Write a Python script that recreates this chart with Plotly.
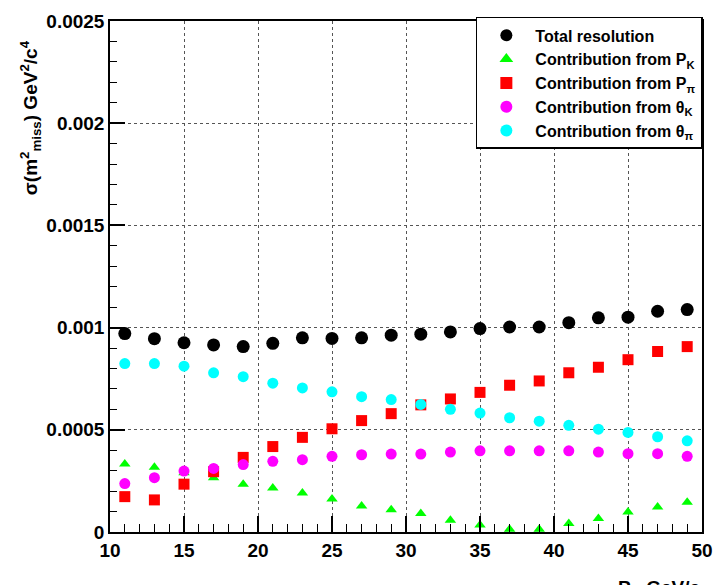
import plotly.graph_objects as go

p_values = [11, 13, 15, 17, 19, 21, 23, 25, 27, 29, 31, 33, 35, 37, 39, 41, 43, 45, 47, 49]

total_res = [0.000971, 0.000946, 0.000926, 0.000915, 0.000907, 0.000923, 0.000950, 0.000947, 0.000950, 0.000963,
             0.000968, 0.000979, 0.000995, 0.001003, 0.001003, 0.001024, 0.001048, 0.001051, 0.001080, 0.001088]
contrib_pk = [0.000333, 0.000317, 0.000290, 0.000266, 0.000234, 0.000215, 0.000191, 0.000162, 0.000127, 0.000109,
              0.000090, 0.000058, 0.000034, 0.000013, 0.000013, 0.000042, 0.000066, 0.000098, 0.000122, 0.000146]
contrib_ppi = [0.000173, 0.000157, 0.000234, 0.000295, 0.000365, 0.000418, 0.000463, 0.000505, 0.000545, 0.000579,
               0.000622, 0.000651, 0.000683, 0.000718, 0.000739, 0.000779, 0.000806, 0.000843, 0.000883, 0.000907]
contrib_thk = [0.000237, 0.000266, 0.000298, 0.000311, 0.000330, 0.000346, 0.000354, 0.000370, 0.000378, 0.000381,
               0.000381, 0.000391, 0.000397, 0.000397, 0.000397, 0.000397, 0.000391, 0.000383, 0.000383, 0.000370]
contrib_thpi = [0.000824, 0.000824, 0.000811, 0.000779, 0.000760, 0.000728, 0.000705, 0.000686, 0.000662, 0.000648,
                0.000624, 0.000600, 0.000582, 0.000559, 0.000542, 0.000522, 0.000503, 0.000487, 0.000466, 0.000446]

names = ["Total resolution", "Contribution from P<sub>K</sub>", "Contribution from P<sub>π</sub>",
         "Contribution from θ<sub>K</sub>", "Contribution from θ<sub>π</sub>"]

FONT = "Liberation Sans, Arial, sans-serif"

fig = go.Figure()
fig.add_trace(go.Scatter(x=p_values, y=total_res, mode="markers", name=names[0],
                         marker=dict(symbol="circle", size=13, color="black")))
fig.add_trace(go.Scatter(x=p_values, y=contrib_pk, mode="markers", name=names[1],
                         marker=dict(symbol="triangle-up", size=10, color="#00ff00")))
fig.add_trace(go.Scatter(x=p_values, y=contrib_ppi, mode="markers", name=names[2],
                         marker=dict(symbol="square", size=11, color="#ff0000")))
fig.add_trace(go.Scatter(x=p_values, y=contrib_thk, mode="markers", name=names[3],
                         marker=dict(symbol="circle", size=11, color="#ff00ff")))
fig.add_trace(go.Scatter(x=p_values, y=contrib_thpi, mode="markers", name=names[4],
                         marker=dict(symbol="circle", size=11, color="#00ffff")))

axis_common = dict(
    showline=True, linecolor="black", linewidth=1.5, mirror=True,
    ticks="inside", tickcolor="black", tickwidth=1.5,
    showgrid=True, gridcolor="#555555", griddash="dot", gridwidth=1,
    zeroline=False,
    tickfont=dict(family=FONT, size=19, color="black", weight="bold"),
)

fig.update_xaxes(range=[10, 50], dtick=5, tick0=10, ticklen=16,
                 minor=dict(dtick=1, ticks="inside", ticklen=8, tickcolor="black", tickwidth=1.2, showgrid=False),
                 **axis_common)
fig.update_yaxes(range=[0, 0.0025], dtick=0.0005, tick0=0, ticklen=15, tickformat="~g",
                 minor=dict(dtick=0.0001, ticks="inside", ticklen=7, tickcolor="black", tickwidth=1.2, showgrid=False),
                 **axis_common)

fig.update_layout(
    width=724, height=585,
    margin=dict(l=110, r=11, t=14, b=53),
    plot_bgcolor="white", paper_bgcolor="white",
    showlegend=True,
    legend=dict(x=0.618, y=1.008, xanchor="left", yanchor="top",
                bgcolor="white", bordercolor="black", borderwidth=1.5,
                font=dict(family=FONT, size=16, color="black", weight="bold"),
                tracegroupgap=0, itemsizing="constant", itemwidth=48),
    annotations=[
        dict(text="σ(m<sup>2</sup><sub>miss</sub>) GeV<sup>2</sup>/c<sup>4</sup>", textangle=-90,
             xref="paper", yref="paper", x=-0.135, y=0.81, xanchor="center", yanchor="middle",
             showarrow=False,
             font=dict(family=FONT, size=19, color="black", weight="bold")),
        dict(text="P<sub>π</sub> GeV/c", xref="paper", yref="paper", x=1.0, y=-0.085,
             xanchor="right", yanchor="top", showarrow=False,
             font=dict(family=FONT, size=19, color="black", weight="bold")),
    ],
)

fig.write_html("out.html")
